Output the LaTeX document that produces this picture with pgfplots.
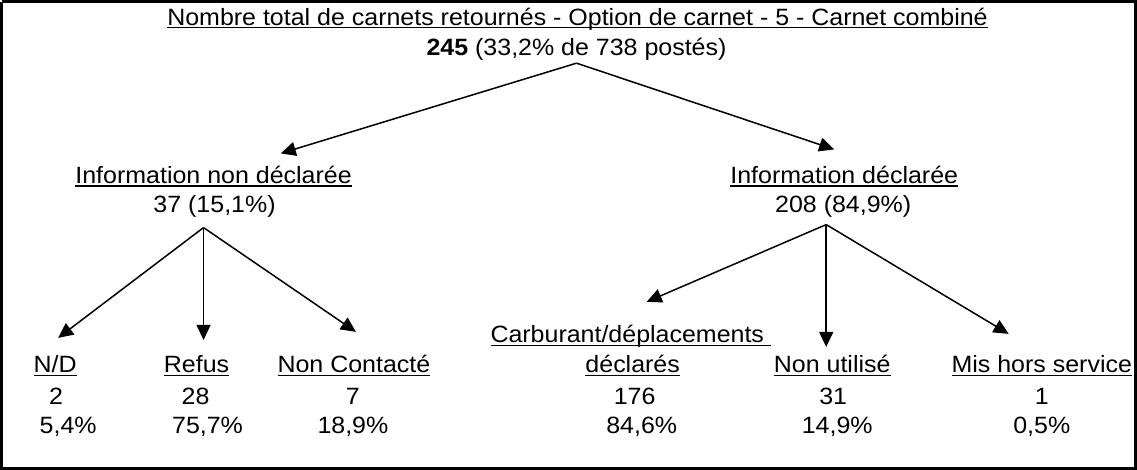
\documentclass[border=0pt]{standalone}
\usepackage{fontspec}
\setmainfont[FakeStretch=1.06]{Liberation Sans}
\usepackage{pgfplots}
\pgfplotsset{compat=1.18}
\usetikzlibrary{arrows.meta}
\newcommand\ul[1]{\setbox0\hbox{#1}\rlap{\rule[-3.2bp]{\wd0}{1.6bp}}\box0}
\begin{document}
\fontsize{23.5bp}{26bp}\selectfont
\begin{tikzpicture}[font=\fontsize{23.5bp}{26bp}\selectfont]
\begin{axis}[
  width=1137bp, height=477bp, scale only axis,
  xmin=0, xmax=1137, ymin=0, ymax=477, y dir=reverse,
  hide axis, clip=false,
  arr/.style={black, line width=1.5bp, -{Triangle[length=15bp,width=14bp]}},
]
% frame
\addplot[black, line width=3bp] coordinates {(1.5,6.5) (1132.5,6.5) (1132.5,472) (1.5,472) (1.5,6.5)};
% arrows from root
\addplot[arr] coordinates {(575,68) (280,158)};
\addplot[arr] coordinates {(575,68) (832,154)};
% left branch
\addplot[arr] coordinates {(203,232) (58,342)};
\addplot[arr] coordinates {(203,232) (203,344)};
\addplot[arr] coordinates {(203,232) (355,336)};
% right branch
\addplot[arr] coordinates {(824,229) (645,306)};
\addplot[arr] coordinates {(824,229) (824,351)};
\addplot[arr] coordinates {(824,229) (1006,338)};
% texts
\begin{scope}[every node/.style={anchor=base, inner sep=0pt, font=\fontsize{23.5bp}{26bp}\selectfont}]
\node at (axis cs:576,30) {\ul{Nombre total de carnets retournés - Option de carnet - 5 - Carnet combiné}};
\node at (axis cs:575,60) {\textbf{245} (33,2\% de 738 postés)};
\node at (axis cs:213,188) {\ul{Information non déclarée}};
\node at (axis cs:214,217) {37 (15,1\%)};
\node at (axis cs:842,188) {\ul{Information déclarée}};
\node at (axis cs:841,217) {208 (84,9\%)};
\node at (axis cs:55,377) {\ul{N/D}};
\node at (axis cs:56,408) {2};
\node at (axis cs:68,437) {5,4\%};
\node at (axis cs:196,377) {\ul{Refus}};
\node at (axis cs:195,408) {28};
\node at (axis cs:207,437) {75,7\%};
\node at (axis cs:353,377) {\ul{Non Contacté}};
\node at (axis cs:352,408) {7};
\node at (axis cs:352,437) {18,9\%};
\node[anchor=base west] at (axis cs:489,347) {\ul{Carburant/déplacements\ }};
\node at (axis cs:631,377) {\ul{déclarés}};
\node at (axis cs:633,408) {176};
\node at (axis cs:640,437) {84,6\%};
\node at (axis cs:830,377) {\ul{Non utilisé}};
\node at (axis cs:831,408) {31};
\node at (axis cs:835,437) {14,9\%};
\node at (axis cs:1039,377) {\ul{Mis hors service}};
\node at (axis cs:1039,408) {1};
\node at (axis cs:1039,437) {0,5\%};
\end{scope}
\end{axis}
\end{tikzpicture}
\end{document}
